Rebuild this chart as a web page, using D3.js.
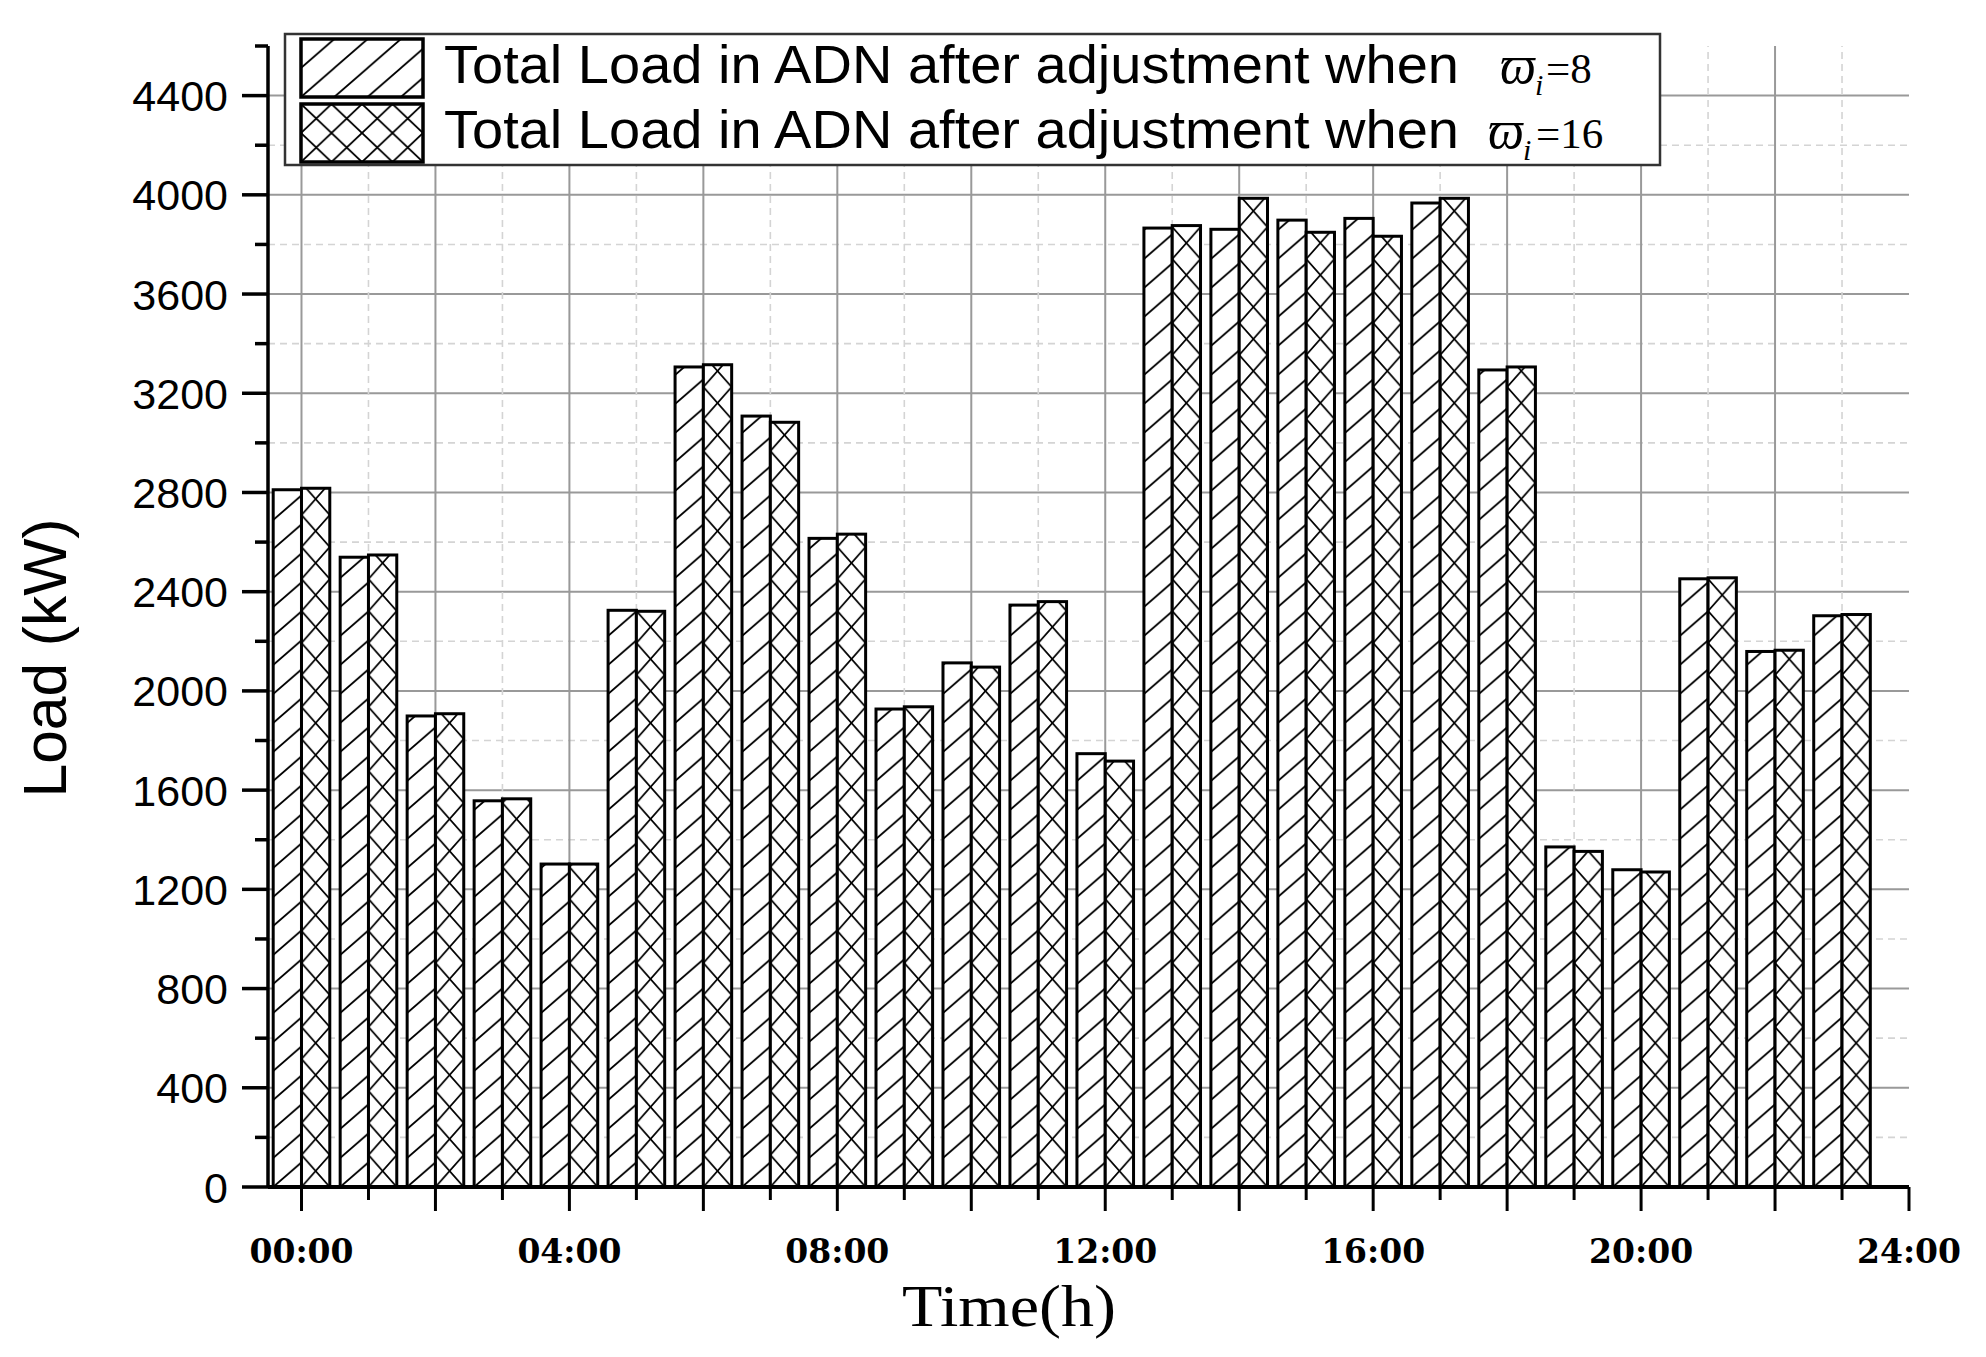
<!DOCTYPE html>
<html><head><meta charset="utf-8">
<script src="https://cdn.jsdelivr.net/npm/d3@7"></script>
<style>body{margin:0;background:#fff}</style>
</head><body><svg id="c" width="1986" height="1357" xmlns="http://www.w3.org/2000/svg"></svg>
<script>
// ---- data ----
const hours = [0,1,2,3,4,5,6,7,8,9,10,11,12,13,14,15,16,17,18,19,20,21,22,23];
const load8  = [2811,2539,1899,1557,1302,2325,3306,3108,2615,1927,2113,2346,1747,3866,3861,3898,3905,3967,3294,1371,1279,2452,2159,2303];
const load16 = [2817,2548,1908,1565,1302,2321,3315,3083,2632,1936,2096,2360,1717,3876,3986,3849,3833,3986,3306,1353,1270,2456,2164,2308];
const seriesLabel = "Total Load in ADN after adjustment when";
const seriesOmega = ["8","16"];
const yTickValues = [0,400,800,1200,1600,2000,2400,2800,3200,3600,4000,4400];
const xTickHours  = [0,4,8,12,16,20,24];
const xTickLabels = ["00:00","04:00","08:00","12:00","16:00","20:00","24:00"];
const yTitle = "Load (kW)";
const xTitle = "Time(h)";

// ---- layout ----
const svg = d3.select("#c");
const x = d3.scaleLinear().domain([-0.5, 24]).range([268, 1909]);
const y = d3.scaleLinear().domain([0, 4600]).range([1187, 46]);
const barW = x(0.4225) - x(0);
const defs = svg.append("defs");

function hatchPath(W, H, family) {
  let d = "";
  for (let k = -1; k <= 1; k++) {
    if (family === "/") d += `M${-W},${2*H + k*H}L${2*W},${-H + k*H}`;
    else d += `M${-W},${-H + k*H}L${2*W},${2*H + k*H}`;
  }
  return d;
}
function makePattern(id, type, px, py, W, H) {
  const p = defs.append("pattern").attr("id", id)
    .attr("patternUnits", "userSpaceOnUse")
    .attr("x", px).attr("y", py).attr("width", W).attr("height", H);
  p.append("rect").attr("width", W).attr("height", H).attr("fill", "#fff");
  const g = p.append("g").attr("stroke", "#000").attr("stroke-width", 1.8).attr("fill", "none");
  g.append("path").attr("d", hatchPath(W, H, "/"));
  if (type === 2) g.append("path").attr("d", hatchPath(W, H, "\\"));
}

// ---- grid ----
const grid = svg.append("g");
const minorY = d3.range(200, 4600, 400);
grid.selectAll(".hgM").data(yTickValues.filter(v => v > 0)).join("line")
  .attr("x1", x(-0.5)).attr("x2", x(24)).attr("y1", d => y(d)).attr("y2", d => y(d))
  .attr("stroke", "#999").attr("stroke-width", 2);
grid.selectAll(".hgm").data(minorY).join("line")
  .attr("x1", x(-0.5)).attr("x2", x(24)).attr("y1", d => y(d)).attr("y2", d => y(d))
  .attr("stroke", "#d4d4d4").attr("stroke-width", 1.6).attr("stroke-dasharray", "7,5");
grid.selectAll(".vgM").data(d3.range(0, 24, 2)).join("line")
  .attr("x1", d => x(d)).attr("x2", d => x(d)).attr("y1", y(0)).attr("y2", y(4600))
  .attr("stroke", "#999").attr("stroke-width", 2);
grid.selectAll(".vgm").data(d3.range(1, 24, 2)).join("line")
  .attr("x1", d => x(d)).attr("x2", d => x(d)).attr("y1", y(0)).attr("y2", y(4600))
  .attr("stroke", "#d4d4d4").attr("stroke-width", 1.6).attr("stroke-dasharray", "7,5");

// ---- bars ----
const bars = [];
hours.forEach((h, i) => {
  bars.push({h, v: load8[i], s: 1, x0: x(h) - barW});
  bars.push({h, v: load16[i], s: 2, x0: x(h)});
});
bars.forEach((b, i) => {
  if (b.s === 1) makePattern("pb" + i, 1, b.x0, y(0), 33.3, 29);
  else makePattern("pb" + i, 2, b.x0, y(0), barW, 32);
});
svg.append("g").selectAll("rect").data(bars).join("rect")
  .attr("x", d => d.x0).attr("width", barW)
  .attr("y", d => y(d.v)).attr("height", d => y(0) - y(d.v))
  .attr("fill", (d, i) => `url(#pb${i})`)
  .attr("stroke", "#000").attr("stroke-width", 3);

// ---- axes ----
const ax = svg.append("g").attr("stroke", "#000");
ax.append("line").attr("x1", x(-0.5)).attr("x2", x(-0.5)).attr("y1", y(0) + 1).attr("y2", y(4600)).attr("stroke-width", 3.5);
ax.append("line").attr("x1", x(-0.5)).attr("x2", x(24)).attr("y1", y(0)).attr("y2", y(0)).attr("stroke-width", 4);
ax.selectAll(".yt").data(yTickValues).join("line")
  .attr("x1", x(-0.5) - 26).attr("x2", x(-0.5)).attr("y1", d => y(d)).attr("y2", d => y(d)).attr("stroke-width", 3.5);
ax.selectAll(".ytm").data(d3.range(200, 4601, 400)).join("line")
  .attr("x1", x(-0.5) - 13).attr("x2", x(-0.5)).attr("y1", d => y(d)).attr("y2", d => y(d)).attr("stroke-width", 3.5);
ax.selectAll(".xt").data(d3.range(0, 25, 2)).join("line")
  .attr("x1", d => x(d)).attr("x2", d => x(d)).attr("y1", y(0)).attr("y2", y(0) + 24).attr("stroke-width", 3);
ax.selectAll(".xtm").data(d3.range(1, 24, 2)).join("line")
  .attr("x1", d => x(d)).attr("x2", d => x(d)).attr("y1", y(0)).attr("y2", y(0) + 13).attr("stroke-width", 3);

svg.append("g").selectAll("text").data(yTickValues).join("text")
  .attr("x", 228).attr("y", d => y(d) + 15.5)
  .attr("text-anchor", "end")
  .attr("font-family", "'Liberation Sans', Arial, sans-serif").attr("font-size", 43)
  .text(d => d);
svg.append("g").selectAll("text").data(xTickHours).join("text")
  .attr("x", d => x(d)).attr("y", 1263)
  .attr("text-anchor", "middle")
  .attr("font-family", "'DejaVu Serif', serif").attr("font-weight", "bold").attr("font-size", 33)
  .text((d, i) => xTickLabels[i]);

svg.append("text").attr("transform", "translate(66,658) rotate(-90)")
  .attr("text-anchor", "middle")
  .attr("font-family", "'Liberation Sans', Arial, sans-serif").attr("font-size", 62)
  .attr("textLength", 279).attr("lengthAdjust", "spacingAndGlyphs")
  .text(yTitle);
svg.append("text").attr("x", 902).attr("y", 1326)
  .attr("font-family", "'Liberation Serif', 'Times New Roman', serif").attr("font-size", 60)
  .attr("textLength", 214).attr("lengthAdjust", "spacingAndGlyphs")
  .text(xTitle);

// ---- legend ----
const lg = svg.append("g");
lg.append("rect").attr("x", 285).attr("y", 34).attr("width", 1375).attr("height", 131)
  .attr("fill", "#fff").attr("stroke", "#333").attr("stroke-width", 2.5);
const rows = [{s: 1, y0: 39, base: 83, om: seriesOmega[0], ox: 1500, ix: 1535, ex: 1546},
              {s: 2, y0: 104, base: 148, om: seriesOmega[1], ox: 1488, ix: 1523, ex: 1536}];
rows.forEach((r, i) => {
  if (r.s === 1) makePattern("lp" + i, 1, 301, r.y0 + 58, 33.3, 29);
  else makePattern("lp" + i, 2, 301, r.y0 + 58, 30.5, 29);
  lg.append("rect").attr("x", 301).attr("y", r.y0).attr("width", 122).attr("height", 58)
    .attr("fill", `url(#lp${i})`).attr("stroke", "#000").attr("stroke-width", 3.5);
  lg.append("text").attr("x", 444).attr("y", r.base)
    .attr("font-family", "'Liberation Sans', Arial, sans-serif").attr("font-size", 53)
    .attr("textLength", 1015).attr("lengthAdjust", "spacingAndGlyphs")
    .text(seriesLabel);
  const ff = "'Liberation Serif', 'DejaVu Serif', serif";
  lg.append("text").attr("x", r.ox).attr("y", r.base)
    .attr("font-family", ff).attr("font-style", "italic").attr("font-size", 54)
    .attr("textLength", 36).attr("lengthAdjust", "spacingAndGlyphs").text("\u03D6");
  lg.append("text").attr("x", r.ix).attr("y", r.base + 12)
    .attr("font-family", ff).attr("font-style", "italic").attr("font-size", 30).text("i");
  lg.append("text").attr("x", r.ex).attr("y", r.base)
    .attr("font-family", ff).attr("font-size", 43).text("=" + r.om);
});
</script>
</body></html>
